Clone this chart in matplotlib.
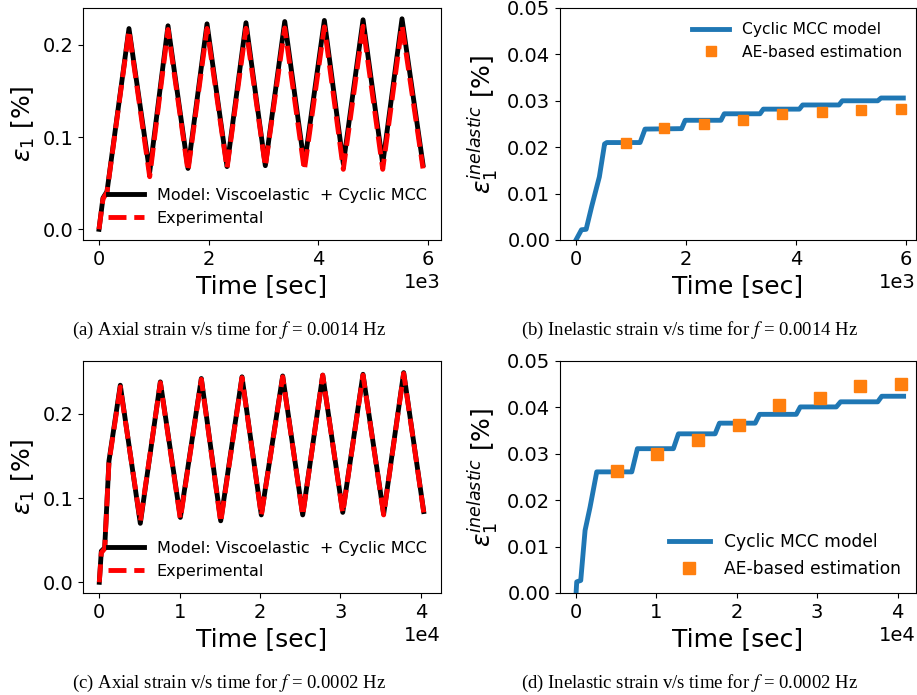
import numpy as np
import matplotlib.pyplot as plt

plt.rcParams['xtick.labelsize'] = 14
plt.rcParams['ytick.labelsize'] = 14
plt.rcParams['axes.labelsize'] = 18

# (a) axial strain, f = 0.0014 Hz
t_a = [0, 73, 146, 547, 925, 1259, 1624, 1971, 2336, 2682, 3035, 3389, 3747,
       4112, 4458, 4818, 5177, 5529, 5912]
model_a = [0, 0.034, 0.041, 0.2177, 0.062, 0.2207, 0.066, 0.2228, 0.068, 0.2240,
           0.069, 0.2253, 0.070, 0.2265, 0.071, 0.2272, 0.071, 0.2283, 0.070]
exp_a = [0, 0.033, 0.040, 0.2157, 0.057, 0.2167, 0.063, 0.2178, 0.066, 0.2180,
         0.068, 0.2183, 0.064, 0.2195, 0.065, 0.2202, 0.065, 0.2213, 0.066]

# (b) inelastic strain, f = 0.0014 Hz
t_b = [0, 100, 185, 285, 425, 520, 560, 1165, 1255, 1920, 1985, 2635, 2695,
       3345, 3405, 4060, 4120, 4780, 4840, 5485, 5545, 5950]
model_b = [0, 0.0022, 0.0023, 0.0072, 0.0136, 0.0207, 0.0210, 0.0210, 0.0239,
           0.0240, 0.0258, 0.0258, 0.0272, 0.0272, 0.0282, 0.0282, 0.0291,
           0.0291, 0.0300, 0.0300, 0.0306, 0.0306]
t_ae_b = [903, 1606, 2322, 3036, 3745, 4467, 5176, 5909]
ae_b = [0.0209, 0.0241, 0.0250, 0.0259, 0.0271, 0.0276, 0.0280, 0.0283]

# (c) axial strain, f = 0.0002 Hz
t_c = [0, 250, 670, 1200, 2610, 5100, 7590, 10080, 12690, 15100, 17750, 20150,
       22810, 25300, 27790, 30280, 32800, 35370, 37860, 40350]
model_c = [0, 0.037, 0.041, 0.144, 0.234, 0.070, 0.238, 0.077, 0.242, 0.073,
           0.244, 0.080, 0.245, 0.080, 0.246, 0.083, 0.247, 0.081, 0.249, 0.084]
exp_c = [0, 0.035, 0.040, 0.142, 0.232, 0.072, 0.237, 0.075, 0.241, 0.071,
         0.243, 0.079, 0.244, 0.079, 0.246, 0.082, 0.246, 0.080, 0.248, 0.083]

# (d) inelastic strain, f = 0.0002 Hz
t_d = [0, 80, 580, 1120, 1740, 2570, 6930, 7630, 12110, 12735, 17300, 17840,
       22290, 22830, 27400, 27900, 32380, 32920, 37540, 38040, 40760]
model_d = [0, 0.0024, 0.0027, 0.0135, 0.0185, 0.0261, 0.0261, 0.0311, 0.0311,
           0.0343, 0.0343, 0.0366, 0.0366, 0.0385, 0.0385, 0.0401, 0.0401,
           0.0412, 0.0412, 0.0424, 0.0424]
t_ae_d = [5066, 10121, 15150, 20216, 25284, 30307, 35367, 40436]
ae_d = [0.0262, 0.0299, 0.0329, 0.0361, 0.0405, 0.0421, 0.0446, 0.0451]

captions = [r'(a) Axial strain v/s time for $f$ = 0.0014 Hz',
            r'(b) Inelastic strain v/s time for $f$ = 0.0014 Hz',
            r'(c) Axial strain v/s time for $f$ = 0.0002 Hz',
            r'(d) Inelastic strain v/s time for $f$ = 0.0002 Hz']

fig = plt.figure(figsize=(9.17, 6.95), dpi=100)

# PIC a
ax = fig.add_axes([0.0905, 0.6547, 0.3904, 0.3338])
ax.plot(t_a, model_a, color='black', lw=3.5, label='Model: Viscoelastic  + Cyclic MCC')
ax.plot(t_a, exp_a, '--', color='red', lw=3.5, label='Experimental')
ax.set_xlim(-292, 6240)
ax.set_ylim(-0.0116, 0.240)
ax.set_xticks([0, 2000, 4000, 6000])
ax.ticklabel_format(axis='x', style='sci', scilimits=(0, 0))
ax.xaxis.get_offset_text().set_fontsize(14)
ax.set_xlabel('Time [sec]')
ax.set_ylabel(r'$\varepsilon_1$ [%]')
ax.legend(loc='lower right', frameon=False, fontsize=11.5, handlelength=2.25)

# PIC b
ax = fig.add_axes([0.6107, 0.6547, 0.3882, 0.3338])
ax.plot(t_b, model_b, color='#1f77b4', lw=3.5, label='Cyclic MCC model')
ax.plot(t_ae_b, ae_b, 's', color='#ff7f0e', ms=7.2, label='AE-based estimation')
ax.set_xlim(-290, 6180)
ax.set_ylim(0, 0.05)
ax.set_xticks([0, 2000, 4000, 6000])
ax.ticklabel_format(axis='x', style='sci', scilimits=(0, 0))
ax.xaxis.get_offset_text().set_fontsize(14)
ax.set_xlabel('Time [sec]')
ax.set_ylabel(r'$\varepsilon_1^{inelastic}$ [%]')
ax.legend(loc='upper right', frameon=False, fontsize=11.2, handlelength=2.4)

# PIC c
ax = fig.add_axes([0.0905, 0.1468, 0.3904, 0.3338])
ax.plot(t_c, model_c, color='black', lw=3.5, label='Model: Viscoelastic  + Cyclic MCC')
ax.plot(t_c, exp_c, '--', color='red', lw=3.5, label='Experimental')
ax.set_xlim(-2030, 42500)
ax.set_ylim(-0.0127, 0.2628)
ax.set_xticks([0, 10000, 20000, 30000, 40000])
ax.ticklabel_format(axis='x', style='sci', scilimits=(0, 0))
ax.xaxis.get_offset_text().set_fontsize(14)
ax.set_xlabel('Time [sec]')
ax.set_ylabel(r'$\varepsilon_1$ [%]')
ax.legend(loc='lower right', frameon=False, fontsize=11.5, handlelength=2.25)

# PIC d
ax = fig.add_axes([0.6107, 0.1468, 0.3882, 0.3338])
ax.plot(t_d, model_d, color='#1f77b4', lw=3.5, label='Cyclic MCC model')
ax.plot(t_ae_d, ae_d, 's', color='#ff7f0e', ms=8.6, label='AE-based estimation')
ax.set_xlim(-2000, 42300)
ax.set_ylim(0, 0.05)
ax.set_xticks([0, 10000, 20000, 30000, 40000])
ax.ticklabel_format(axis='x', style='sci', scilimits=(0, 0))
ax.xaxis.get_offset_text().set_fontsize(14)
ax.set_xlabel('Time [sec]')
ax.set_ylabel(r'$\varepsilon_1^{inelastic}$ [%]')
ax.legend(loc='lower right', frameon=False, fontsize=12.3, handlelength=2.4)

# sub-figure captions
for x, y, txt in zip([0.2497, 0.7514, 0.2497, 0.7514], [0.518, 0.518, 0.0096, 0.0096], captions):
    fig.text(x, y, txt, ha='center', va='baseline', family='Liberation Serif',
             fontsize=13.5, math_fontfamily='stix')

fig.savefig('out.png', dpi=100)
plt.close(fig)
